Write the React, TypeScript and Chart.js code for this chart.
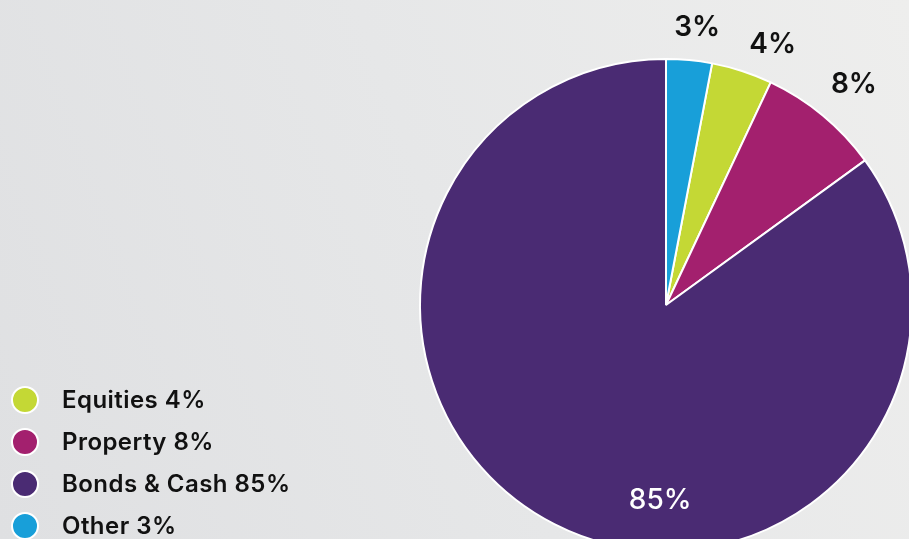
import React, { useEffect, useRef } from "react";
import { Chart, registerables } from "chart.js";

Chart.register(...registerables);

// Legend order (as in the reference legend)
const categories = ["Equities", "Property", "Bonds & Cash", "Other"];
const values = [4, 8, 85, 3];
const colors = ["#c4d835", "#a3206e", "#4a2b73", "#189fd9"];
// Pie starts with "Other" at 12 o'clock, so the first drawn slice (Equities) is rotated by Other's share
const startCategory = "Other";

// label placement tweaks (style only): angle shift in degrees, radius delta from outer edge
const labelShift = [
  { dA: 4.3, dR: 35, color: "#111111", weight: 600 },
  { dA: 0.8, dR: 44, color: "#111111", weight: 600 },
  { dA: -25.3, dR: -50, color: "#ffffff", weight: 500 },
  { dA: 1.0, dR: 33, color: "#111111", weight: 600 },
];

const FONT = "Inter, 'Noto Sans', sans-serif";

export default function App() {
  const ref = useRef<HTMLCanvasElement | null>(null);

  useEffect(() => {
    if (!ref.current) return;
    const total = values.reduce((a, b) => a + b, 0);
    const rot = (values[categories.indexOf(startCategory)] / total) * 360;

    const labelPlugin = {
      id: "pctLabels",
      afterDatasetsDraw(chart: any) {
        const ctx = chart.ctx;
        const meta = chart.getDatasetMeta(0);
        ctx.save();
        ctx.textAlign = "center";
        ctx.textBaseline = "middle";
        meta.data.forEach((arc: any, i: number) => {
          const p = arc.getProps(["x", "y", "startAngle", "endAngle", "outerRadius"], true);
          const mid = (p.startAngle + p.endAngle) / 2 + (labelShift[i].dA * Math.PI) / 180;
          const r = p.outerRadius + labelShift[i].dR;
          const x = p.x + Math.cos(mid) * r;
          const y = p.y + Math.sin(mid) * r;
          ctx.fillStyle = labelShift[i].color;
          ctx.font = `${labelShift[i].weight} 28px ${FONT}`;
          ctx.fillText(values[i] + "%", x, y);
        });
        ctx.restore();
      },
    };

    const chart = new Chart(ref.current, {
      type: "pie",
      data: {
        labels: categories,
        datasets: [
          {
            data: values,
            backgroundColor: colors,
            borderColor: "#ffffff",
            borderWidth: 2,
          },
        ],
      },
      options: {
        responsive: false,
        animation: false,
        devicePixelRatio: 1,
        rotation: rot,
        layout: { padding: { left: 419, top: 58, right: 17, bottom: 18 } },
        plugins: {
          legend: { display: false },
          tooltip: { enabled: false },
        },
      },
      plugins: [labelPlugin],
    });
    return () => chart.destroy();
  }, []);

  return (
    <div
      style={{
        position: "fixed",
        left: 0,
        top: 0,
        width: 909,
        height: 539,
        overflow: "hidden",
        background: "linear-gradient(70deg, #dfe0e2 0%, #e6e7e8 50%, #eeeeed 100%)",
        fontFamily: FONT,
      }}
    >
      <canvas
        ref={ref}
        width={930}
        height={570}
        style={{ position: "absolute", left: 0, top: 0, width: 930, height: 570 }}
      />
      {categories.map((c, i) => (
        <div
          key={c}
          style={{
            position: "absolute",
            left: 0,
            top: 400 - 21 + i * 42,
            height: 42,
          }}
        >
          <div
            style={{
              position: "absolute",
              left: 11,
              top: 7,
              width: 24,
              height: 24,
              borderRadius: "50%",
              background: colors[i],
              border: "2px solid #ffffff",
            }}
          />
          <span
            style={{
              position: "absolute",
              left: 62,
              whiteSpace: "nowrap",
              fontSize: 24,
              fontWeight: 600,
              letterSpacing: "0.45px",
              color: "#111111",
              lineHeight: "42px",
              top: 0,
            }}
          >
            {c} {values[i]}%
          </span>
        </div>
      ))}
    </div>
  );
}
